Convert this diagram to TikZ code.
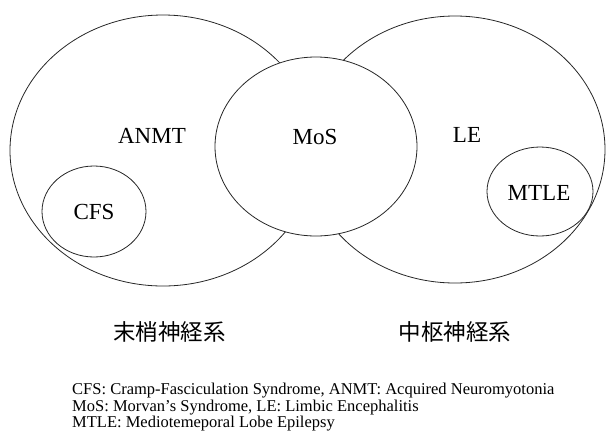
\documentclass[tikz,border=0pt]{standalone}
\usepackage{fontspec}
\setmainfont{Liberation Serif}
\newfontfamily\jpfont{Noto Sans CJK JP}
\usepackage{tikz}
\usetikzlibrary{shapes.geometric, positioning}

\begin{document}
\begin{tikzpicture}[x=1pt, y=-1pt,
    oval/.style={ellipse, draw=black!85, line width=0.8pt, inner sep=0pt},
    lbl/.style={font=\fontsize{23}{25}\selectfont, inner sep=0pt},
    sys/.style={font=\jpfont\fontsize{22.5}{24}\selectfont, inner sep=0pt},
    legend/.style={font=\fontsize{16.5}{16.5}\selectfont, inner sep=0pt, anchor=base west}]

    \useasboundingbox (0,0) rectangle (606,440);

    % Peripheral and central nervous system ovals
    \node[oval, minimum width=306pt, minimum height=271pt] (pns) at (163,150.5) {};
    \node[oval, minimum width=300pt, minimum height=267pt] (cns) at (455,149.5) {};

    % Small ovals inside each system
    \node[oval, minimum width=104pt, minimum height=91pt] (cfs) at (94,211.5) {};
    \node[oval, minimum width=106pt, minimum height=89pt] (mtle) at (540,191.5) {};

    % Overlapping oval in the middle, covers the big arcs
    \node[oval, fill=white, minimum width=202pt, minimum height=179pt] (mos) at (316,146.5) {};

    % Labels of the ovals
    \node[lbl] (anmtl) at (152,136) {ANMT};
    \node[lbl] (mosl) at (315,137) {MoS};
    \node[lbl] (lel) at (467,135) {LE};
    \node[lbl] (cfsl) at (94,212) {CFS};
    \node[lbl] (mtlel) at (539,193) {MTLE};

    % System names under the ovals
    \node[sys] (pnsname) at (169.5,332) {末梢神経系};
    \node[sys] (cnsname) at (455,332) {中枢神経系};

    % Legend
    \node[legend] (leg1) at (72,394) {CFS: Cramp-Fasciculation Syndrome, ANMT: Acquired Neuromyotonia};
    \node[legend] (leg2) at (72,411) {MoS: Morvan's Syndrome, LE: Limbic Encephalitis};
    \node[legend] (leg3) at (72,427) {MTLE: Mediotemeporal Lobe Epilepsy};

\end{tikzpicture}
\end{document}
